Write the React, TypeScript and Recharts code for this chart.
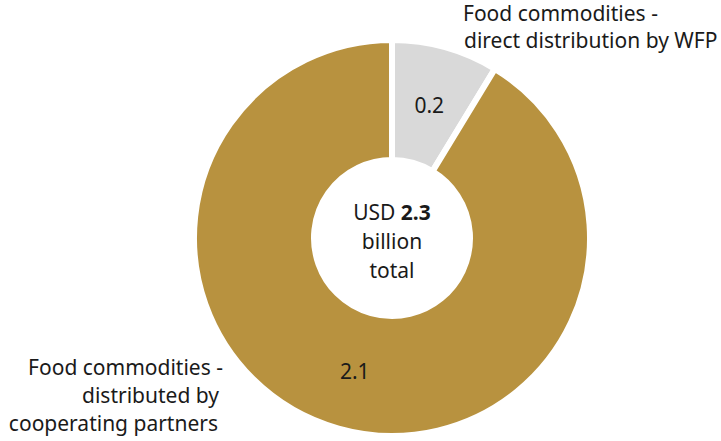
import { PieChart, Pie, Cell } from "recharts";

const sliceNames = ["Food commodities - direct distribution by WFP", "Food commodities - distributed by cooperating partners"];
const sliceValues = [0.2, 2.1];
const sliceColors = ["#d9d9d9", "#b8923f"];
const totalLines = ["billion", "total"];

const FONT = "'Noto Sans', sans-serif";
const SIZE = 21;
const CX = 392;
const CY = 238;
const INNER = 78;
const OUTER = 198;
const RAD = Math.PI / 180;

const data = sliceNames.map((name, i) => ({ name, value: sliceValues[i] }));

function renderValueLabel(props: any) {
  const { cx, cy, midAngle, innerRadius, outerRadius, value } = props;
  const r = (innerRadius + outerRadius) / 2;
  const x = cx + r * Math.cos(-midAngle * RAD);
  const y = cy + r * Math.sin(-midAngle * RAD);
  return (
    <text x={x} y={y} textAnchor="middle" dominantBaseline="central" fill="#1a1a1a" fontSize={SIZE} fontFamily={FONT}>
      {value.toFixed(1)}
    </text>
  );
}

export default function App() {
  const total = sliceValues.reduce((a, b) => a + b, 0);
  return (
    <div style={{ position: "absolute", left: 0, top: 0, background: "#fff" }}>
      <PieChart width={721} height={441} margin={{ top: 0, right: 0, bottom: 0, left: 0 }}>
        <Pie
          data={data}
          dataKey="value"
          cx={CX}
          cy={CY}
          innerRadius={INNER}
          outerRadius={OUTER}
          startAngle={90}
          endAngle={-270}
          stroke="#ffffff"
          strokeWidth={6}
          label={renderValueLabel}
          labelLine={false}
          isAnimationActive={false}
        >
          {data.map((d, i) => (
            <Cell key={d.name} fill={sliceColors[i]} />
          ))}
        </Pie>
        <g fontFamily={FONT} fontSize={SIZE} fill="#1a1a1a">
          <text x={CX} y={220} textAnchor="middle">
            USD <tspan fontWeight={700}>{total.toFixed(1)}</tspan>
          </text>
          {totalLines.map((t, i) => (
            <text key={t} x={CX} y={249 + i * 29} textAnchor="middle">
              {t}
            </text>
          ))}
          <text x={463} y={21}>Food commodities -</text>
          <text x={464} y={48}>direct distribution by WFP</text>
          <text x={223} y={375} textAnchor="end">Food commodities -</text>
          <text x={219} y={403} textAnchor="end">distributed by</text>
          <text x={218} y={431} textAnchor="end">cooperating partners</text>
        </g>
      </PieChart>
    </div>
  );
}
